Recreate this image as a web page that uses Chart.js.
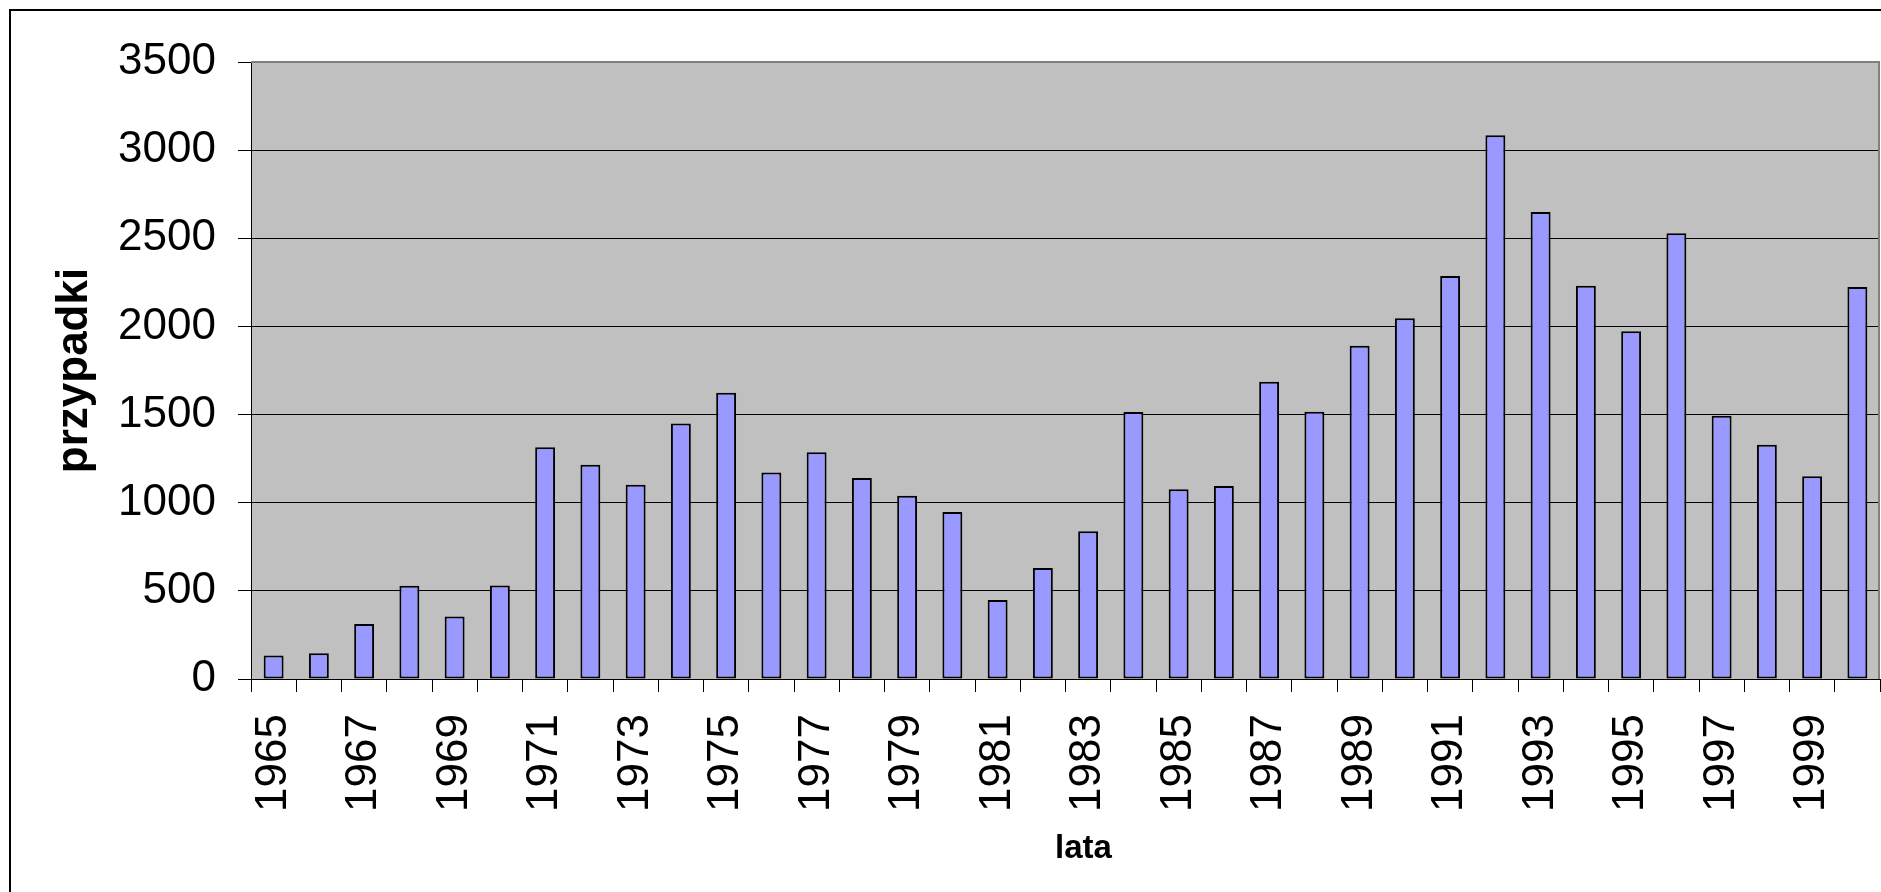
<!DOCTYPE html>
<html lang="pl">

<head>
    <meta charset="UTF-8">
    <title>Przypadki w latach</title>
    <style>
        body { margin: 0; background: #fff; overflow: hidden; }
        canvas { display: block; }
    </style>
</head>

<body>
    <canvas id="myChart" width="1881" height="892"></canvas>

    <script src="https://cdn.jsdelivr.net/npm/chart.js"></script>
    <script>
        const years = ['1965', '1966', '1967', '1968', '1969', '1970', '1971', '1972', '1973', '1974',
            '1975', '1976', '1977', '1978', '1979', '1980', '1981', '1982', '1983', '1984',
            '1985', '1986', '1987', '1988', '1989', '1990', '1991', '1992', '1993', '1994',
            '1995', '1996', '1997', '1998', '1999', '2000'];
        const cases = [134, 146, 312, 529, 355, 531, 1314, 1216, 1102, 1450,
            1624, 1172, 1286, 1140, 1040, 947, 448, 630, 838, 1514,
            1076, 1095, 1686, 1516, 1890, 2046, 2286, 3084, 2649, 2231,
            1972, 2528, 1494, 1329, 1150, 2223];
        const yTicks = [0, 500, 1000, 1500, 2000, 2500, 3000, 3500];

        const font = 'Liberation Sans, Arial, sans-serif';

        // white page, outer frame, grey plot area, x axis title
        const backdrop = {
            id: 'backdrop',
            beforeDraw(chart) {
                const { ctx, chartArea: a } = chart;
                ctx.save();
                ctx.fillStyle = '#fff';
                ctx.fillRect(0, 0, chart.width, chart.height);
                ctx.strokeStyle = '#000';
                ctx.lineWidth = 2;
                ctx.beginPath();
                ctx.moveTo(10, chart.height);
                ctx.lineTo(10, 10);
                ctx.lineTo(chart.width, 10);
                ctx.stroke();
                ctx.fillStyle = '#c0c0c0';
                ctx.fillRect(a.left, a.top, a.right - a.left, a.bottom - a.top);
                ctx.restore();
            },
            afterDraw(chart) {
                const { ctx, chartArea: a } = chart;
                ctx.save();
                ctx.strokeStyle = '#808080';
                ctx.lineWidth = 2;
                ctx.beginPath();
                ctx.moveTo(a.left, a.top);
                ctx.lineTo(a.right - 1, a.top);
                ctx.lineTo(a.right - 1, a.bottom);
                ctx.stroke();

                // "lata" sits a bit right of the plot centre in the original
                ctx.fillStyle = '#000';
                ctx.font = 'bold 33px ' + font;
                ctx.textAlign = 'center';
                ctx.textBaseline = 'middle';
                ctx.fillText('lata', (a.left + a.right) / 2 + 18, chart.height - 43);
                ctx.restore();
            }
        };

        const ctx = document.getElementById('myChart');
        new Chart(ctx, {
            type: 'bar',
            data: {
                labels: years,
                datasets: [{
                    label: 'przypadki',
                    data: cases,
                    backgroundColor: '#9999ff',
                    borderColor: '#000',
                    borderWidth: 2,
                    borderSkipped: false,
                    categoryPercentage: 1,
                    barPercentage: 0.44
                }]
            },
            options: {
                responsive: false,
                animation: false,
                devicePixelRatio: 1,
                layout: { padding: { top: 62, right: 1, left: 0, bottom: 0 } },
                plugins: {
                    legend: { display: false },
                    tooltip: { enabled: false }
                },
                scales: {
                    x: {
                        grid: {
                            offset: true,
                            drawOnChartArea: false,
                            drawTicks: true,
                            tickLength: 13,
                            color: '#000'
                        },
                        border: { color: '#000', width: 1 },
                        ticks: {
                            autoSkip: false,
                            maxRotation: 90,
                            minRotation: 90,
                            padding: 22,
                            color: '#000',
                            font: { family: font, size: 44 },
                            callback: (v, i) => (i % 2 === 0 ? years[i] : '')
                        },
                        afterFit: s => {
                            s.height = 213;
                            s.paddingLeft = 0;
                            s.paddingRight = 0;
                        }
                    },
                    y: {
                        min: 0,
                        max: 3500,
                        afterBuildTicks: s => { s.ticks = yTicks.map(v => ({ value: v })); },
                        grid: {
                            color: '#000',
                            lineWidth: 1,
                            tickLength: 13
                        },
                        border: { color: '#000', width: 1 },
                        ticks: {
                            padding: 22,
                            color: '#000',
                            font: { family: font, size: 44 },
                            callback: v => String(v)
                        },
                        title: {
                            display: true,
                            text: 'przypadki',
                            color: '#000',
                            font: { family: font, size: 44, weight: 'bold', lineHeight: 1 },
                            padding: { top: 53, bottom: 0 }
                        },
                        afterFit: s => { s.width = 251; }
                    }
                }
            },
            plugins: [backdrop]
        });
    </script>
</body>

</html>
